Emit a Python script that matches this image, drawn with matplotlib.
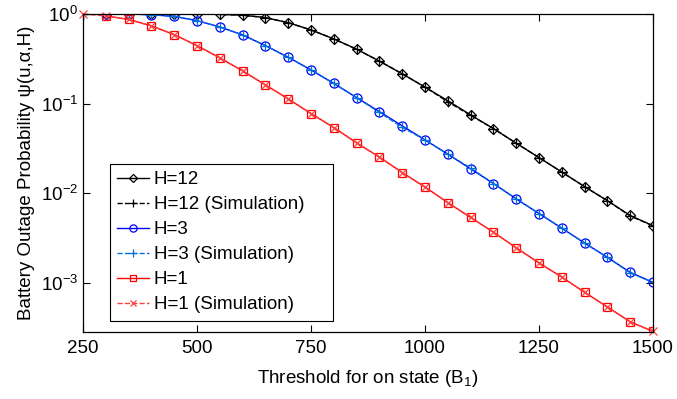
import matplotlib
matplotlib.use("Agg")
import matplotlib.pyplot as plt
import numpy as np
from matplotlib.ticker import LogLocator, NullLocator, FixedLocator

plt.rcParams['font.family'] = ['Liberation Sans', 'DejaVu Sans']
plt.rcParams['mathtext.fontset'] = 'custom'
plt.rcParams['mathtext.rm'] = 'Liberation Sans'
plt.rcParams['mathtext.it'] = 'Liberation Sans'

# Data
b1 = [250, 300, 350, 400, 450, 500, 550, 600, 650, 700, 750, 800, 850, 900,
      950, 1000, 1050, 1100, 1150, 1200, 1250, 1300, 1350, 1400, 1450, 1500]

h12 = [None, 1.0, 1.0, 1.0, 1.0, 1.0, 0.99, 0.97, 0.91, 0.80, 0.664, 0.527, 0.405, 0.298,
       0.215, 0.153, 0.108, 0.075, 0.0528, 0.0363, 0.0251, 0.0173, 0.0119, 0.0083, 0.00568, 0.00436]
h12_sim = [1.0, 1.0, 1.0, 1.0, 1.0, 1.0, 0.99, 0.97, 0.91, 0.80, 0.664, 0.527, 0.405, 0.298,
           0.216, 0.153, 0.105, 0.074, 0.0528, 0.0363, 0.0251, 0.0173, 0.0119, 0.0083, 0.00560, 0.00436]

h3 = [None, 1.0, 1.0, 0.98, 0.94, 0.843, 0.717, 0.584, 0.444, 0.329, 0.238, 0.168, 0.117, 0.0816,
      0.0566, 0.0395, 0.0274, 0.0188, 0.0129, 0.0087, 0.00597, 0.0041, 0.0028, 0.00194, 0.00132, 0.00102]
h3_sim = [1.0, 1.0, 1.0, 0.98, 0.94, 0.843, 0.717, 0.584, 0.444, 0.329, 0.238, 0.168, 0.117, 0.0800,
          0.0545, 0.0395, 0.0274, 0.0192, 0.0129, 0.0087, 0.00597, 0.0041, 0.0028, 0.00194, 0.00130, 0.00102]

h1 = [None, 0.95, 0.87, 0.736, 0.589, 0.444, 0.324, 0.232, 0.162, 0.113, 0.0776, 0.0542, 0.0366, 0.0254,
      0.0171, 0.0118, 0.0079, 0.0054, 0.0037, 0.00248, 0.00168, 0.00117, 0.00079, 0.000543, 0.000371, 0.00029]
h1_sim = [1.0, 0.95, 0.87, 0.736, 0.589, 0.444, 0.324, 0.232, 0.162, 0.113, 0.0776, 0.0542, 0.0366, 0.0254,
          0.0171, 0.0117, 0.0079, 0.0054, 0.0037, 0.00248, 0.00168, 0.00117, 0.00079, 0.000543, 0.000371, 0.00029]

xticks = [250, 500, 750, 1000, 1250, 1500]

def arr(v):
    return np.array([np.nan if a is None else a for a in v], dtype=float)

FS = 13.5
fig = plt.figure(figsize=(6.77, 3.99), dpi=100)
ax = fig.add_axes([0.1226, 0.168, 0.842, 0.797])

x = np.array(b1)
sim_blue = (0.0, 0.45, 0.85)
sim_red = (1.0, 0.25, 0.25)

ax.plot(x, arr(h12), '-', color='black', marker='D', ms=5.5, mfc='none', mew=0.9, lw=1.0, label='H=12')
ax.plot(x, arr(h12_sim), '--', color='black', marker='+', ms=7, mew=0.9, lw=1.0, label='H=12 (Simulation)')
ax.plot(x, arr(h3), '-', color='#0000ff', marker='o', ms=6.5, mfc='none', mew=0.9, lw=1.0, label='H=3')
ax.plot(x, arr(h3_sim), '--', color=sim_blue, marker='+', ms=7, mew=0.9, lw=1.0, label='H=3 (Simulation)')
ax.plot(x, arr(h1), '-', color='#ff0000', marker='s', ms=5.5, mfc='none', mew=0.9, lw=1.0, label='H=1')
ax.plot(x, arr(h1_sim), '--', color=sim_red, marker='x', ms=5.5, mew=0.9, lw=1.0, label='H=1 (Simulation)',
        clip_on=False)

ax.set_yscale('log')
ax.set_xlim(250, 1500)
ax.set_ylim(2.86e-4, 1.0)
ax.xaxis.set_major_locator(FixedLocator(xticks))
ax.yaxis.set_major_locator(LogLocator(base=10, numticks=10))
ax.yaxis.set_minor_locator(NullLocator())
ax.xaxis.set_minor_locator(NullLocator())
ax.tick_params(which='both', direction='in', top=True, right=True, length=5, width=0.8, labelsize=FS)
ax.tick_params(axis='x', pad=6)
for s in ax.spines.values():
    s.set_linewidth(0.9)

ax.set_xlabel('Threshold for on state (B$_1$)', fontsize=FS, labelpad=8)
ax.set_ylabel('Battery Outage Probability ψ(u,α,H)', fontsize=FS, labelpad=4)

leg = ax.legend(loc='lower left', bbox_to_anchor=(0.047, 0.035, 0.391, 0.487), mode='expand',
                fontsize=FS, fancybox=False, edgecolor='black', framealpha=1, handlelength=1.7,
                borderaxespad=0, labelspacing=0.42, handletextpad=0.25, borderpad=0.4, markerscale=0.8)
leg.get_frame().set_linewidth(0.8)

fig.savefig('out.png', dpi=100)
